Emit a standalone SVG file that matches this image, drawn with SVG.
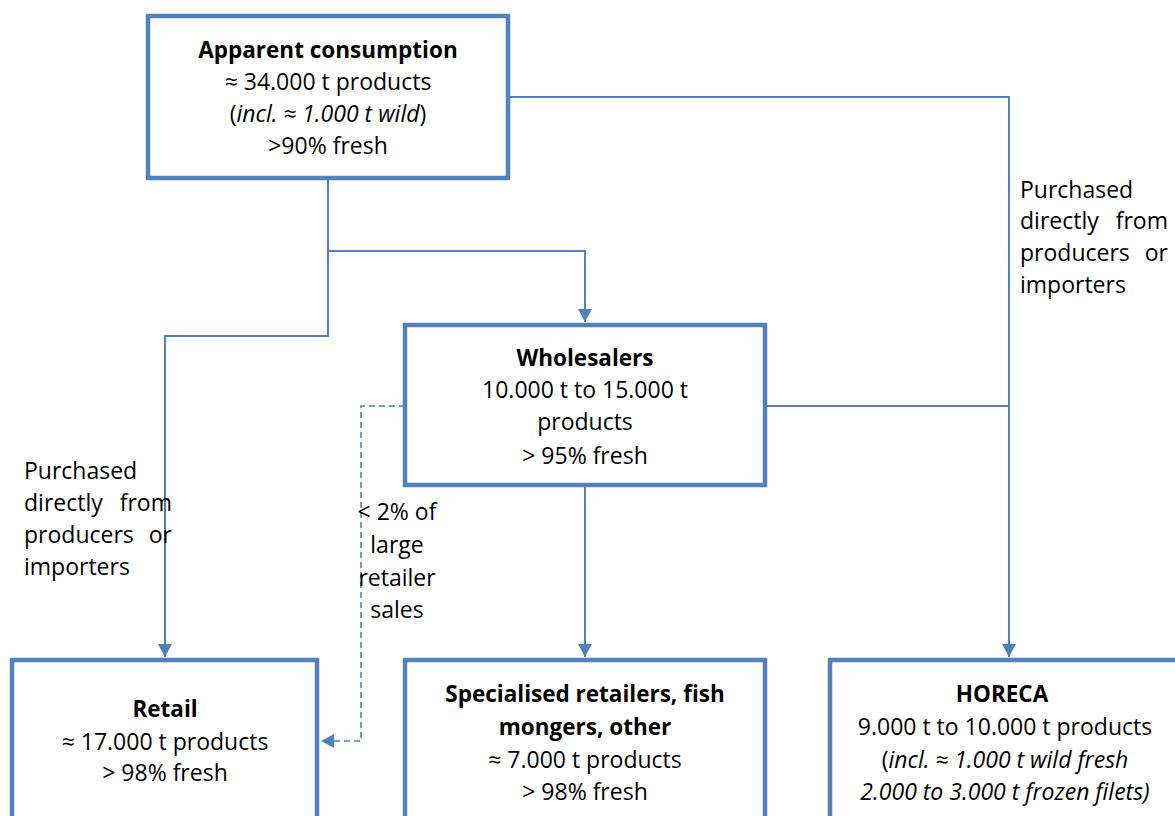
<svg xmlns="http://www.w3.org/2000/svg" width="1175" height="816" viewBox="0 0 1175 816">
<style>
.box{fill:#fff;stroke:#4F81BD;stroke-width:4.5}
.ln{fill:none;stroke:#4F81BD;stroke-width:2}
.dash{fill:none;stroke:#4F81BD;stroke-width:1.6;stroke-dasharray:6 4}
text{font-family:"Open Sans","Noto Sans","Liberation Sans",sans-serif;font-size:23px;fill:#000}
.c{text-anchor:middle}
.b{font-weight:bold;font-size:22.5px}
.i{font-style:italic}
.r{text-anchor:end}
</style>
<defs>
<marker id="ah" markerWidth="16" markerHeight="16" refX="13" refY="7" orient="auto" markerUnits="userSpaceOnUse">
<path d="M0,0 L13,7 L0,14 Z" fill="#4F81BD"/>
</marker>
</defs>
<g id="connectors">
<polyline class="ln" points="328,178 328,336 165,336 165,657" marker-end="url(#ah)"/>
<polyline class="ln" points="328,251 585,251 585,322" marker-end="url(#ah)"/>
<polyline class="ln" points="508,97 1009,97 1009,657" marker-end="url(#ah)"/>
<polyline class="ln" points="765,406 1009,406"/>
<polyline class="ln" points="585,485 585,657" marker-end="url(#ah)"/>
<polyline class="dash" points="405,406 361,406 361,741 321,741" marker-end="url(#ah)"/>
</g>
<g id="apparent">
<rect class="box" x="148" y="16" width="360" height="162"/>
<text class="c b" x="328" y="58">Apparent consumption</text>
<text class="c" x="328" y="90">≈ 34.000 t products</text>
<text class="c" x="328" y="122">(<tspan class="i">incl. ≈ 1.000 t wild</tspan>)</text>
<text class="c" x="328" y="154">&gt;90% fresh</text>
</g>
<g id="wholesalers">
<rect class="box" x="405" y="325" width="360" height="160"/>
<text class="c b" x="585" y="366">Wholesalers</text>
<text class="c" x="585" y="398">10.000 t to 15.000 t</text>
<text class="c" x="585" y="430">products</text>
<text class="c" x="585" y="464">&gt; 95% fresh</text>
</g>
<g id="retail">
<rect class="box" x="12" y="660" width="305" height="170"/>
<text class="c b" x="165" y="717">Retail</text>
<text class="c" x="165" y="750">≈ 17.000 t products</text>
<text class="c" x="165" y="781">&gt; 98% fresh</text>
</g>
<g id="specialised">
<rect class="box" x="405" y="660" width="360" height="170"/>
<text class="c b" x="585" y="702">Specialised retailers, fish</text>
<text class="c b" x="585" y="735">mongers, other</text>
<text class="c" x="585" y="768">≈ 7.000 t products</text>
<text class="c" x="585" y="800">&gt; 98% fresh</text>
</g>
<g id="horeca">
<rect class="box" x="830" y="660" width="360" height="170"/>
<text class="c b" x="1002" y="702">HORECA</text>
<text class="c" x="1005" y="735">9.000 t to 10.000 t products</text>
<text class="c" x="1005" y="768">(<tspan class="i">incl. ≈ 1.000 t wild fresh</tspan></text>
<text class="c i" x="1005" y="800">2.000 to 3.000 t frozen filets)</text>
</g>
<g id="label-right">
<text x="1020" y="198">Purchased</text>
<text x="1020" y="229">directly</text><text class="r" x="1168" y="229">from</text>
<text x="1020" y="261">producers</text><text class="r" x="1168" y="261">or</text>
<text x="1020" y="293">importers</text>
</g>
<g id="label-left">
<text x="24" y="479">Purchased</text>
<text x="24" y="511">directly</text><text class="r" x="172" y="511">from</text>
<text x="24" y="543">producers</text><text class="r" x="172" y="543">or</text>
<text x="24" y="575">importers</text>
</g>
<g id="label-dashed">
<text class="c" x="397" y="520">&lt; 2% of</text>
<text class="c" x="397" y="553">large</text>
<text class="c" x="397" y="586">retailer</text>
<text class="c" x="397" y="618">sales</text>
</g>
</svg>
